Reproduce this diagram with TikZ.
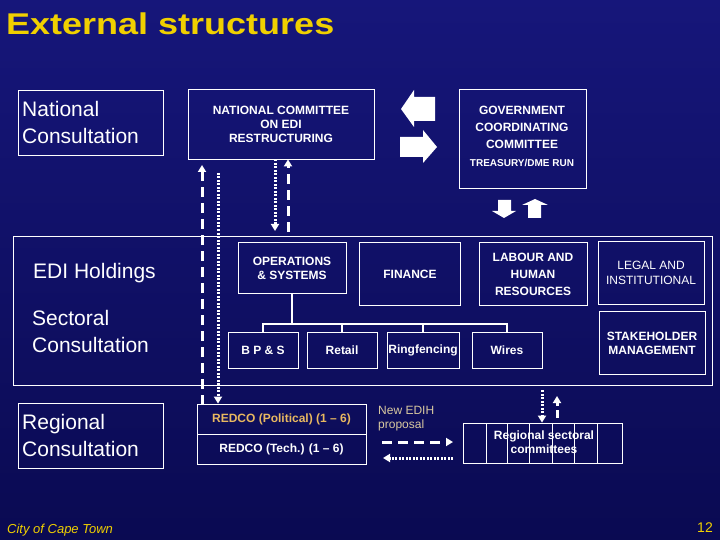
\documentclass[tikz,border=0pt]{standalone}
\usepackage{fontspec}
\setmainfont{Liberation Sans}
\usetikzlibrary{arrows.meta}
\definecolor{bgtop}{HTML}{16167A}
\definecolor{bgbot}{HTML}{0A0A52}
\definecolor{ttl}{HTML}{F0D000}
\definecolor{gold}{HTML}{E8B860}
\definecolor{tan}{HTML}{D8C8A0}
\tikzset{
  box/.style={draw=white,line width=0.8pt,text=white,font=\bfseries\fontsize{12}{14}\selectfont,align=center,inner sep=0pt},
  lbl/.style={text=white,font=\bfseries\fontsize{12}{14}\selectfont,align=center,inner sep=0pt},
  side/.style={text=white,font=\fontsize{21}{27}\selectfont,align=left,anchor=west,inner sep=0pt},
  dashedln/.style={white,line width=3pt,dash pattern=on 10pt off 6pt},
  dottedln/.style={white,line width=3pt,dash pattern=on 2pt off 1.5pt},
  tip/.style={-{Triangle[width=8pt,length=7pt]}},
  blk/.style={fill=white,draw=none}
}
\begin{document}
\begin{tikzpicture}[x=1pt,y=-1pt]
\useasboundingbox (0,0) rectangle (720,540);
\shade[top color=bgtop,bottom color=bgbot] (0,0) rectangle (720,540);
\node[text=ttl,font=\bfseries\fontsize{30}{32}\selectfont,anchor=west,inner sep=0pt] (title) at (6,24) {\scalebox{1.2}[1]{External structures}};
\node[text=ttl,font=\itshape\fontsize{13}{15}\selectfont,anchor=west,inner sep=0pt] (city) at (7,530) {City of Cape Town};
\node[text=ttl,font=\fontsize{14}{16}\selectfont,anchor=east,inner sep=0pt] (pg) at (713,528) {12};
% left boxes
\draw[white,line width=0.8pt] (18,90) rectangle (163,155);
\node[side] (nc) at (22,122) {National\\Consultation};
\draw[white,line width=0.8pt] (13,236) rectangle (712,385);
\node[side] (edi) at (33,273) {EDI Holdings};
\node[side] (sc) at (32,331) {Sectoral\\Consultation};
\draw[white,line width=0.8pt] (18,403) rectangle (163,468);
\node[side] (rc) at (22,435) {Regional\\Consultation};
% top boxes
\node[box,minimum width=186pt,minimum height=70pt] (ncom) at (281,124) {NATIONAL COMMITTEE\\ON EDI\\RESTRUCTURING};
\node[box,minimum width=127pt,minimum height=99pt] (gov) at (522.5,138.5) {};
\node[lbl,font=\bfseries\fontsize{12}{17}\selectfont,anchor=north] (govt) at (522,106) {GOVERNMENT\\COORDINATING\\COMMITTEE};
\node[text=white,font=\bfseries\fontsize{10}{12}\selectfont,inner sep=0pt] (tr) at (522,163) {TREASURY/DME RUN};
% block arrows
\fill[blk] (435,97) -- (414,97) -- (414,90) -- (401,109) -- (414,127) -- (414,121) -- (435,121) -- cycle;
\fill[blk] (400,137) -- (423,137) -- (423,130) -- (437,147) -- (423,163) -- (423,157) -- (400,157) -- cycle;
\fill[blk] (498,200) -- (511,200) -- (511,211) -- (516,211) -- (504,218) -- (492,211) -- (498,211) -- cycle;
\fill[blk] (528,218) -- (541,218) -- (541,205) -- (548,205) -- (535,199) -- (522,205) -- (528,205) -- cycle;
% holdings boxes
\node[box,minimum width=108pt,minimum height=51pt] (ops) at (292,268) {OPERATIONS\\\& SYSTEMS};
\node[box,minimum width=101pt,minimum height=63pt] (fin) at (410,274) {FINANCE};
\node[box,font=\bfseries\fontsize{12}{17}\selectfont,minimum width=108pt,minimum height=63pt] (lab) at (533,274) {LABOUR AND\\HUMAN\\RESOURCES};
\node[box,minimum width=106pt,minimum height=63pt,font=\fontsize{12}{15}\selectfont] (leg) at (651,273) {LEGAL AND\\INSTITUTIONAL};
\node[box,minimum width=106pt,minimum height=63pt] (stk) at (652,343) {STAKEHOLDER\\MANAGEMENT};
\node[box,minimum width=70pt,minimum height=36pt] (bps) at (263,350) {B P \& S};
\node[box,minimum width=70pt,minimum height=36pt] (ret) at (342,350) {Retail};
\node[box,minimum width=72pt,minimum height=36pt] (ring) at (423,350) {Ringfencing};
\node[box,minimum width=70pt,minimum height=36pt] (wir) at (507,350) {Wires};
\coordinate (j) at (ops.south |- 0,324);
\draw[white,line width=1.2pt] (ops.south) -- (j);
\draw[white,line width=1.2pt] (bps.north) |- (j) -| (wir.north);
\draw[white,line width=1.2pt] (ret.north) -- (ret.north |- j);
\draw[white,line width=1.2pt] (ring.north) -- (ring.north |- j);
% regional
\node[box,minimum width=169pt,minimum height=30pt,text=gold] (rp) at (281.5,419) {REDCO (Political) (1 – 6)};
\node[box,minimum width=169pt,minimum height=30pt] (rt) at (281.5,449) {REDCO (Tech.) (1 – 6)};
\node[text=tan,font=\fontsize{12}{14}\selectfont,align=left,anchor=north west,inner sep=0pt] (new) at (378,406) {New EDIH\\proposal};
\node[box,minimum width=159pt,minimum height=40pt] (rs) at (542.5,443) {};
\foreach \x in {486,507,529,552,574,597} \draw[white,line width=0.8pt] (\x,423) -- (\x,463);
\node[lbl] (rst) at (544,442) {Regional sectoral\\committees};
% connectors
\coordinate (a1) at (202,405); \coordinate (a2) at (202,165);
\draw[dashedln,tip] (a1) -- (a2);
\coordinate (b1) at (218,173);
\draw[dottedln,tip] (b1) -- (rp.north -| 218,0);
\coordinate (c2) at (275,231);
\draw[dottedln,tip] (ncom.south -| 275,0) -- (c2);
\coordinate (d1) at (288,232);
\draw[dashedln,tip] (d1) -- (ncom.south -| 288,0);
\coordinate (e1) at (382,442); \coordinate (e2) at (453,442);
\draw[dashedln,tip] (e1) -- (e2);
\coordinate (f1) at (453,458); \coordinate (f2) at (383,458);
\draw[dottedln,tip] (f1) -- (f2);
\coordinate (g1) at (542,390);
\draw[dottedln,tip] (g1) -- (rs.north -| 542,0);
\coordinate (h2) at (557,396);
\draw[dashedln,tip,dash pattern=on 8pt off 4pt] (557,418) -- (h2);
\end{tikzpicture}
\end{document}
